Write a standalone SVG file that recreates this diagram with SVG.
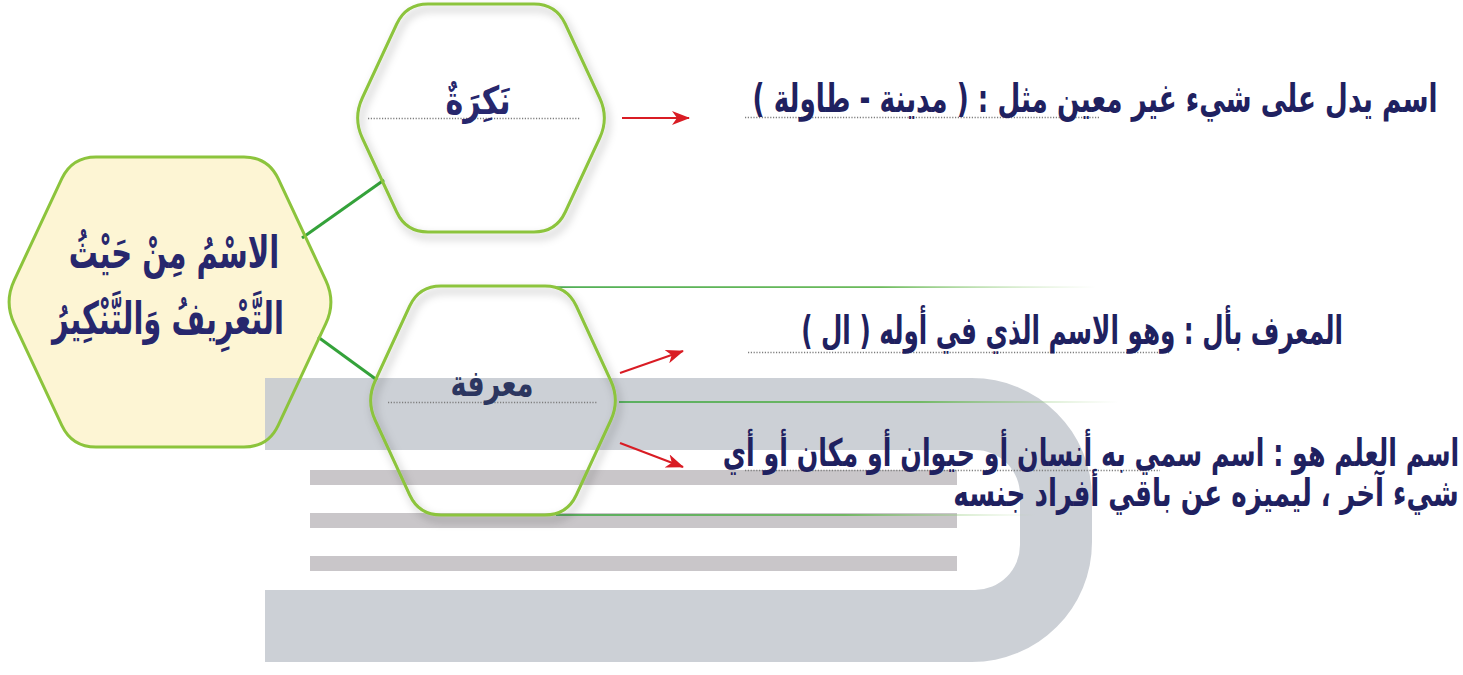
<svg xmlns="http://www.w3.org/2000/svg" width="1463" height="675" viewBox="0 0 1463 675">
  <defs>
    <style>
      .hex { fill: none; stroke: #8cc43c; stroke-width: 3; stroke-linejoin: round; }
      .conn { stroke: #34a23a; stroke-width: 3; fill: none; }
      .arrow { stroke: #d91c24; stroke-width: 2; fill: none; marker-end: url(#ah); }
      .dots { stroke: #7d7d7d; stroke-width: 1.3; stroke-dasharray: 1.2 1.6; fill: none; }
      .title { font-family: "DejaVu Sans", "Noto Sans", sans-serif; font-weight: bold; fill: #27276d; }
      .body { font-family: "DejaVu Sans", "Noto Sans", sans-serif; font-weight: bold; fill: #1f2160; font-size: 29px; }
      .stripe { fill: #c9c6c9; }
    </style>
    <marker id="ah" markerWidth="18" markerHeight="14" refX="17" refY="7" orient="auto" markerUnits="userSpaceOnUse">
      <path d="M0,0 L18,7 L0,14 L5,7 Z" fill="#d91c24"/>
    </marker>
    <linearGradient id="gfade" x1="0" y1="0" x2="1" y2="0">
      <stop offset="0" stop-color="#3fa744"/>
      <stop offset="0.6" stop-color="#5cb34a"/>
      <stop offset="1" stop-color="#a8d48a" stop-opacity="0"/>
    </linearGradient>
    <filter id="sh" x="-20%" y="-20%" width="140%" height="150%">
      <feDropShadow dx="3" dy="5" stdDeviation="4" flood-color="#000" flood-opacity="0.3"/>
    </filter>
  </defs>

  <rect width="1463" height="675" fill="#ffffff"/>

  <!-- yellow hexagon fill (under background D) -->
  <path id="hexMainFill" d="M14.2,280.3 L61.8,178.7 Q72,157 96,157 L244,157 Q268,157 278.2,178.7 L325.8,280.3 Q336,302 325.8,323.7 L278.2,425.3 Q268,447 244,447 L96,447 Q72,447 61.8,425.3 L14.2,323.7 Q4,302 14.2,280.3 Z" fill="#fdf5d4"/>

  <!-- background D shape with stripes -->
  <g id="background">
    <path d="M265,378 H972 A120,120 0 0 1 1092,498 V542 A120,120 0 0 1 972,662 H265 V590 H975 A45,45 0 0 0 1020,545 V495 A45,45 0 0 0 975,450 H265 Z" fill="#c5cad0" fill-opacity="0.88"/>
    <rect class="stripe" x="310" y="470" width="647" height="15"/>
    <rect class="stripe" x="310" y="513" width="647" height="15"/>
    <rect class="stripe" x="310" y="556" width="647" height="15"/>
  </g>

  <!-- connectors -->
  <g id="connectors">
    <line class="conn" x1="302" y1="238" x2="384" y2="180"/>
    <line class="conn" x1="318" y1="337" x2="377" y2="380"/>
    <line class="arrow" x1="622" y1="118" x2="689" y2="118"/>
    <line class="arrow" x1="620" y1="373" x2="683" y2="351"/>
    <line class="arrow" x1="620" y1="443" x2="683" y2="467"/>
    <rect x="556" y="286.3" width="540" height="1.6" fill="url(#gfade)"/>
    <rect x="619" y="401.2" width="500" height="1.6" fill="url(#gfade)"/>
    <rect x="556" y="514.2" width="480" height="1.6" fill="url(#gfade)"/>
  </g>

  <!-- main node -->
  <g id="node-main">
    <path class="hex" d="M14.2,280.3 L61.8,178.7 Q72,157 96,157 L244,157 Q268,157 278.2,178.7 L325.8,280.3 Q336,302 325.8,323.7 L278.2,425.3 Q268,447 244,447 L96,447 Q72,447 61.8,425.3 L14.2,323.7 Q4,302 14.2,280.3 Z"/>
    <text class="title" transform="translate(174,268) scale(1,1.55)" font-size="29" text-anchor="middle" direction="rtl">الاسْمُ مِنْ حَيْثُ</text>
    <text class="title" transform="translate(168,334) scale(1,1.55)" font-size="29" text-anchor="middle" direction="rtl">التَّعْرِيفُ وَالتَّنْكِيرُ</text>
  </g>

  <!-- nakira node -->
  <g id="node-nakira">
    <path class="hex" filter="url(#sh)" d="M362.3,98 L396.7,24 Q406,4 428,4 L534,4 Q556,4 565.3,24 L599.7,98 Q609,118 599.7,138 L565.3,212 Q556,232 534,232 L428,232 Q406,232 396.7,212 L362.3,138 Q353,118 362.3,98 Z"/>
    <line class="dots" x1="368" y1="118.5" x2="580" y2="118.5"/>
    <text class="title" transform="translate(478,114) scale(1,1.3)" font-size="30" text-anchor="middle" direction="rtl">نَكِرَةٌ</text>
  </g>

  <!-- maarifa node -->
  <g id="node-maarifa">
    <path class="hex" filter="url(#sh)" d="M375.3,380.5 L409.7,306 Q419,286 441,286 L545,286 Q567,286 576.3,306 L610.7,380.5 Q620,400.5 610.7,420.5 L576.3,495 Q567,515 545,515 L441,515 Q419,515 409.7,495 L375.3,420.5 Q366,400.5 375.3,380.5 Z"/>
    <line class="dots" x1="388" y1="402.5" x2="598" y2="402.5"/>
    <text class="title" transform="translate(492,396) scale(1,1.35)" font-size="27" text-anchor="middle" direction="rtl" style="fill:#2c3660">معرفة</text>
  </g>

  <!-- descriptions -->
  <g id="desc-nakira">
    <line class="dots" x1="745" y1="117.5" x2="1100" y2="117.5"/>
    <text class="body" transform="translate(1095,112) scale(0.906,1.35)" text-anchor="middle" direction="rtl">اسم يدل على شيء غير معين مثل : ( مدينة - طاولة )</text>
  </g>
  <g id="desc-al">
    <line class="dots" x1="748" y1="352.5" x2="1170" y2="352.5"/>
    <text class="body" transform="translate(1072,344) scale(0.85,1.35)" text-anchor="middle" direction="rtl">المعرف بأل : وهو الاسم الذي في أوله ( ال )</text>
  </g>
  <g id="desc-alam">
    <line class="dots" x1="745" y1="470.5" x2="1160" y2="470.5"/>
    <text class="body" transform="translate(1091,466) scale(0.873,1.3)" text-anchor="middle" direction="rtl">اسم العلم هو : اسم سمي به أنسان أو حيوان أو مكان أو أي</text>
    <text class="body" transform="translate(1206,506) scale(0.903,1.3)" text-anchor="middle" direction="rtl">شيء آخر ، ليميزه عن باقي أفراد جنسه</text>
  </g>
</svg>
